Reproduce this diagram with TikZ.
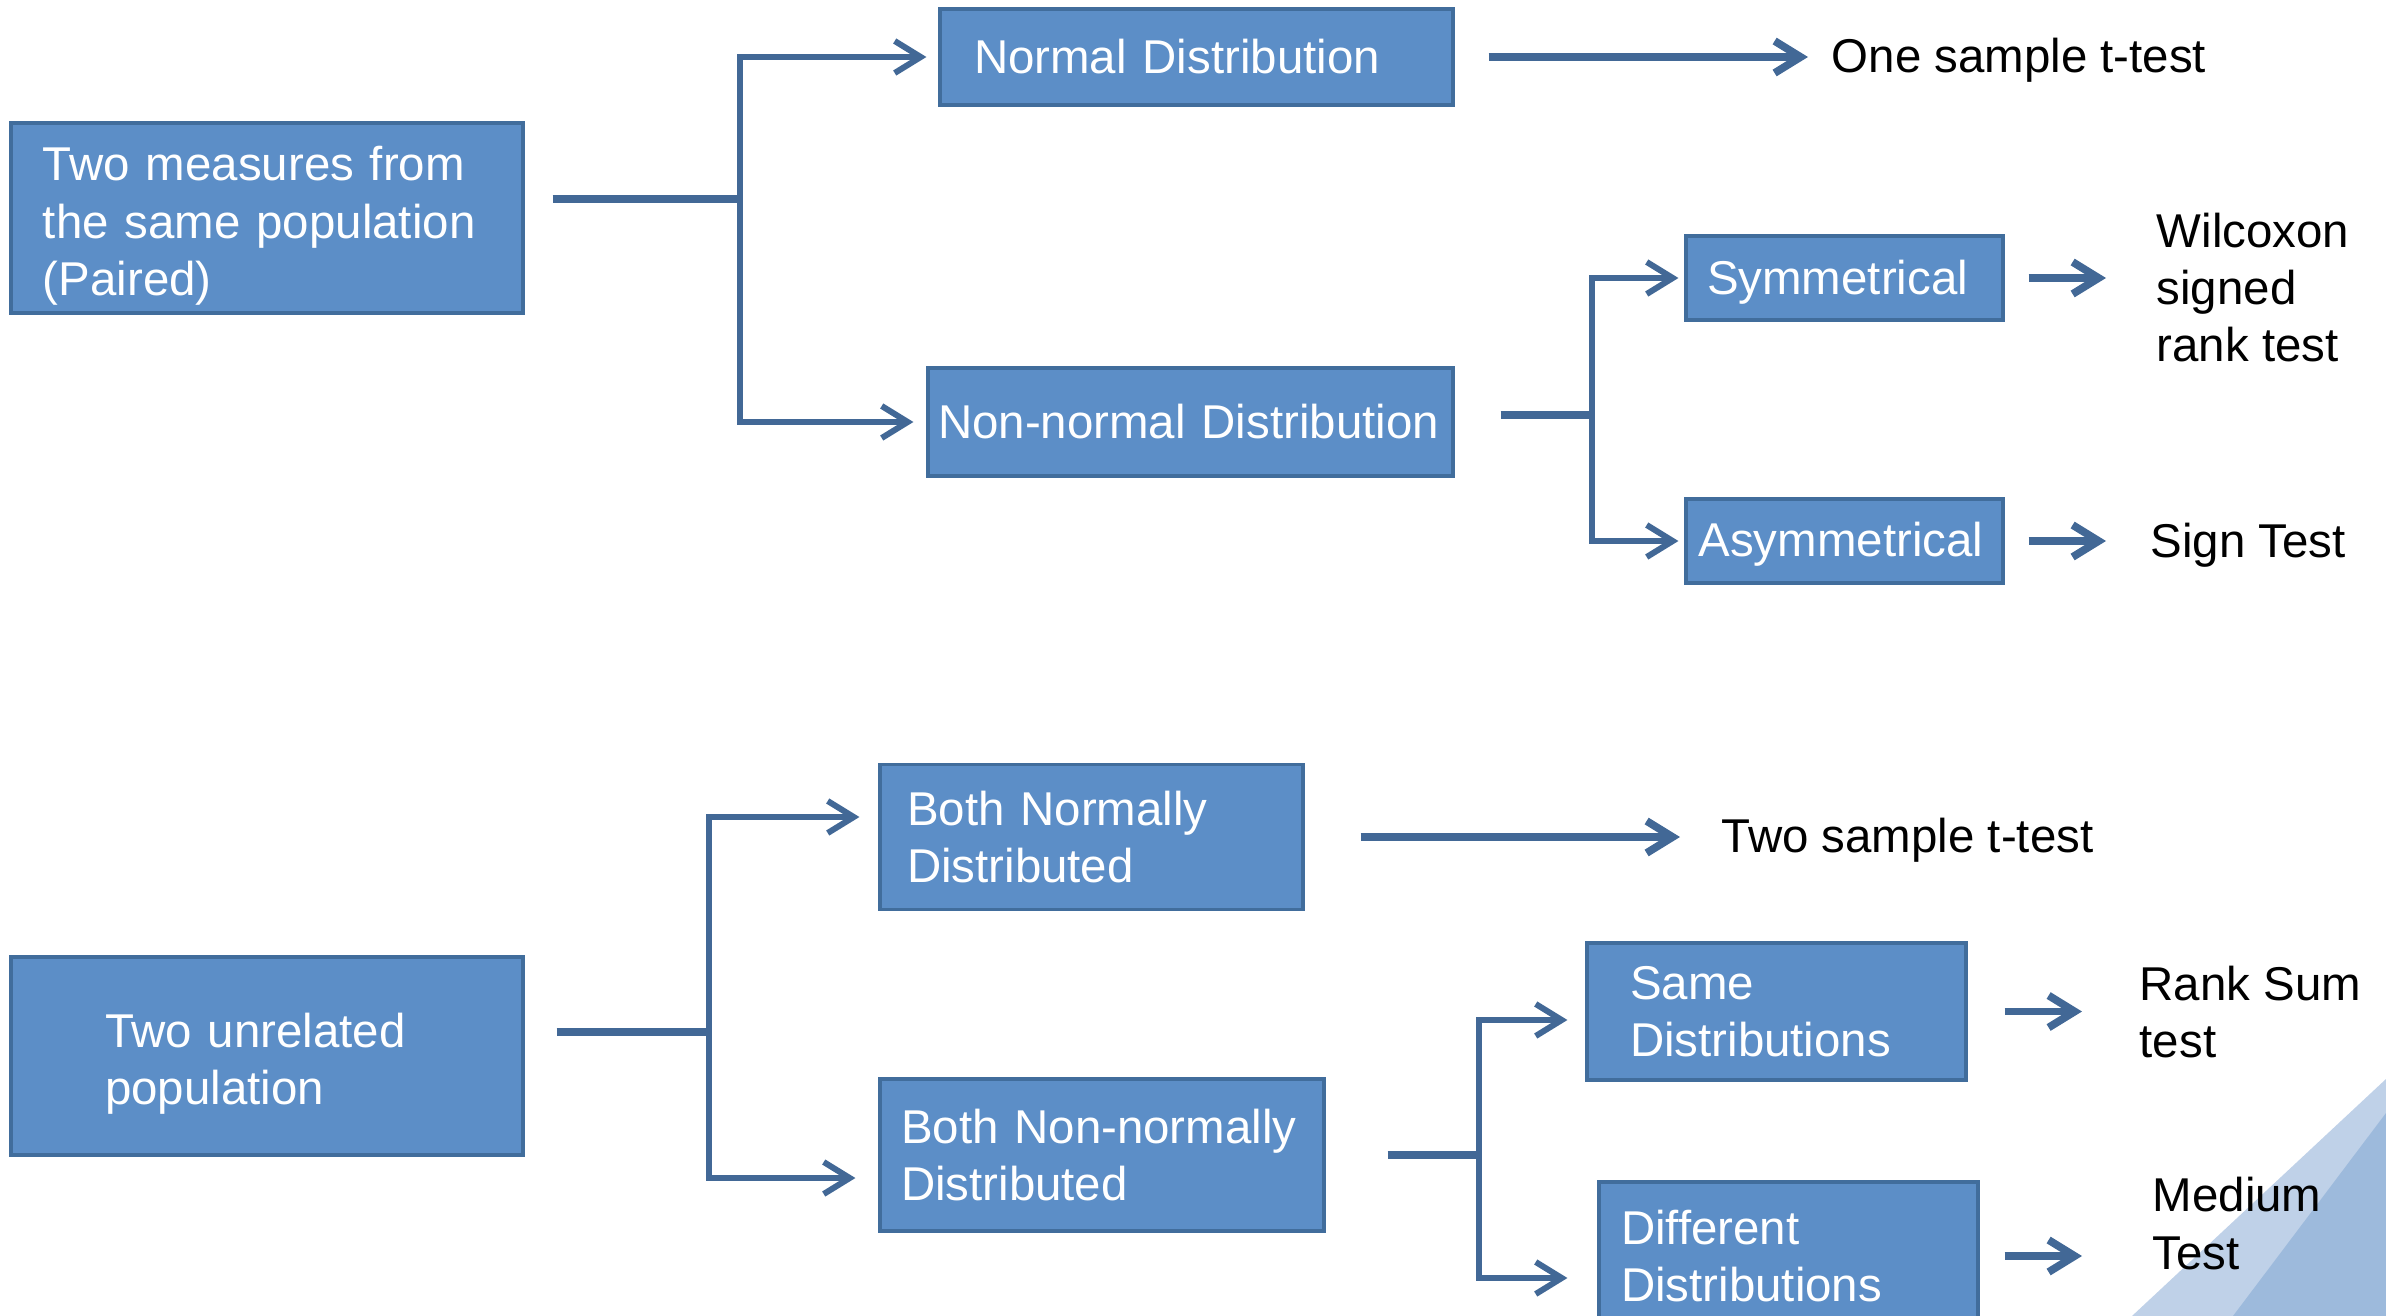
\documentclass[tikz,border=0pt]{standalone}
\usepackage{fontspec}
\setmainfont{Liberation Sans}
\usetikzlibrary{arrows.meta}
\definecolor{boxfill}{RGB}{92,142,199}
\definecolor{boxline}{RGB}{65,109,156}
\definecolor{linkcol}{RGB}{66,104,150}
\definecolor{wedgelight}{RGB}{191,209,232}
\definecolor{wedgedark}{RGB}{157,186,220}

\begin{document}
\begin{tikzpicture}[
    font=\fontsize{13.5}{16.3}\selectfont,
    block/.style={draw=boxline, fill=boxfill, line width=0.9pt, text=white, align=left, inner sep=0pt},
    lowered/.style={execute at begin node={\rule{0pt}{#1}}},
    note/.style={anchor=west, align=left, inner sep=0pt},
    stem/.style={draw=linkcol, line width=2.3pt},
    branch/.style={draw=linkcol, line width=1.7pt, line cap=round, -{Straight Barb[length=2.6mm, width=3.2mm]}},
    result/.style={draw=linkcol, line width=2.2pt, -{Straight Barb[length=2.6mm, width=3.2mm]}}
  ]
    \useasboundingbox (0,0) rectangle (23.86,-13.16);
    \clip (0,0) rectangle (23.86,-13.16);

    % corner decoration
    \fill[wedgelight] (21.32,-13.16) -- (23.86,-10.79) -- (23.86,-13.16) -- cycle;
    \fill[wedgedark] (22.33,-13.16) -- (23.86,-11.13) -- (23.86,-13.16) -- cycle;

    % roots
    \node[block, lowered=0.50cm, minimum width=5.12cm, minimum height=1.90cm, text width=4.48cm] (paired) at (2.67,-2.18) {Two measures from\\the same population\\(Paired)};
    \node[block, lowered=0.50cm, minimum width=5.12cm, minimum height=1.98cm, text width=3.24cm] (unrelated) at (2.67,-10.56) {Two unrelated\\population};

    % first split
    \node[block, minimum width=5.13cm, minimum height=0.96cm, text width=4.45cm] (normal) at (11.965,-0.57) {Normal Distribution};
    \node[block, minimum width=5.25cm, minimum height=1.08cm, text width=5.05cm] (nonnormal) at (11.905,-4.22) {Non-normal Distribution};
    \node[block, minimum width=4.23cm, minimum height=1.45cm, text width=3.69cm] (bothnormal) at (10.915,-8.37) {Both Normally\\Distributed};
    \node[block, minimum width=4.44cm, minimum height=1.52cm, text width=4.02cm] (bothnon) at (11.02,-11.55) {Both Non-normally\\Distributed};

    % second split
    \node[block, lowered=0.43cm, minimum width=3.17cm, minimum height=0.84cm, text width=2.75cm] (sym) at (18.445,-2.78) {Symmetrical};
    \node[block, lowered=0.41cm, minimum width=3.17cm, minimum height=0.84cm, text width=2.92cm] (asym) at (18.445,-5.41) {Asymmetrical};
    \node[block, minimum width=3.79cm, minimum height=1.37cm, text width=2.93cm] (same) at (17.765,-10.115) {Same\\Distributions};
    \node[block, minimum width=3.79cm, minimum height=1.48cm, text width=3.35cm] (different) at (17.885,-12.56) {Different\\Distributions};

    % tests
    \node[note] (onesample) at (18.31,-0.60) {One sample t-test};
    \node[note] (wilcoxon) at (21.56,-2.875) {Wilcoxon\\signed\\rank test};
    \node[note] (sign) at (21.50,-5.45) {Sign Test};
    \node[note] (twosample) at (17.21,-8.40) {Two sample t-test};
    \node[note] (ranksum) at (21.39,-10.12) {Rank Sum\\test};
    \node[note] (median) at (21.52,-12.235) {Medium\\Test};

    \coordinate (j1) at (7.40,-1.99);
    \coordinate (j2) at (15.92,-4.15);
    \coordinate (j3) at (7.09,-10.32);
    \coordinate (j4) at (14.79,-11.55);

    %\foreach \j in {j1,j2,j3,j4} \fill[red] (\j) circle (2pt);

    % paired
    \draw[stem, shorten <=0.28cm] (paired.east |- j1) -- (j1);
    \draw[branch, shorten >=0.12cm] (j1) |- (normal.west);
    \draw[branch, shorten >=0.13cm] (j1) |- (nonnormal.west);
    \draw[result, shorten <=0.34cm, shorten >=0.23cm] (normal.east) -- (onesample.west |- normal.east);
    \draw[stem, shorten <=0.46cm] (nonnormal.east |- j2) -- (j2);
    \draw[branch, shorten >=0.06cm] (j2) |- (sym.west);
    \draw[branch, shorten >=0.06cm] (j2) |- (asym.west);
    \draw[result, shorten <=0.24cm, shorten >=0.50cm] (sym.east) -- (sym.east -| wilcoxon.west);
    \draw[result, shorten <=0.24cm, shorten >=0.44cm] (asym.east) -- (asym.east -| sign.west);

    % unrelated
    \draw[stem, shorten <=0.32cm] (unrelated.east |- j3) -- (j3);
    \draw[branch, shorten >=0.19cm] (j3) |- ([yshift=0.20cm]bothnormal.west);
    \draw[branch, shorten >=0.23cm] (j3) |- ([yshift=-0.23cm]bothnon.west);
    \draw[result, shorten <=0.56cm, shorten >=0.41cm] (bothnormal.east) -- (bothnormal.east -| twosample.west);
    \draw[stem, shorten <=0.62cm] (bothnon.east |- j4) -- (j4);
    \draw[branch, shorten >=0.18cm] (j4) |- ([yshift=-0.085cm]same.west);
    \draw[branch, shorten >=0.30cm] (j4) |- ([yshift=-0.22cm]different.west);
    \draw[result, shorten <=0.37cm, shorten >=0.57cm] (same.east) -- (same.east -| ranksum.west);
    \draw[result, shorten <=0.25cm, shorten >=0.70cm] (different.east) -- (different.east -| median.west);
  \end{tikzpicture}
\end{document}
